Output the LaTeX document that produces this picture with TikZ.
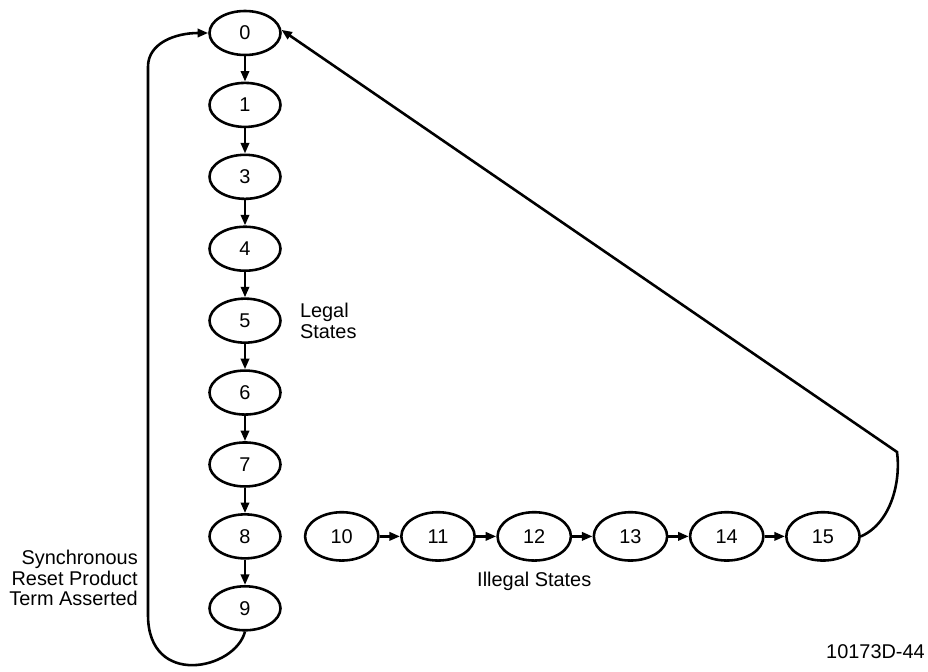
\documentclass[tikz,border=0pt]{standalone}
\usepackage{fontspec}
\setmainfont{Liberation Sans}
\usetikzlibrary{shapes.geometric, arrows.meta, positioning, calc}

\begin{document}
\begin{tikzpicture}[
  font=\fontsize{17}{17.5}\selectfont,
  node distance=0.76cm,
  state/.style={ellipse, draw, line width=2.2pt, minimum width=2.13cm,
                minimum height=1.32cm, inner sep=0pt},
  hstate/.style={state, minimum width=2.2cm, minimum height=1.45cm},
  lbl/.style={inner sep=0pt, align=left},
  arrow/.style={-{Triangle[length=9pt,width=7pt]}, line width=2.2pt},
]
\useasboundingbox (0,0) rectangle (27.84,-20.16);

% legal states
\node[state] (n0) at (7.35,-0.99) {0};
\node[state, below=of n0] (n1) {1};
\node[state, below=of n1] (n3) {3};
\node[state, below=of n3] (n4) {4};
\node[state, below=of n4] (n5) {5};
\node[state, below=of n5] (n6) {6};
\node[state, below=of n6] (n7) {7};
\node[state, below=of n7] (n8) {8};
\node[state, below=of n8] (n9) {9};

% illegal states
\node[hstate, right=0.66cm of n8]  (n10) {10};
\node[hstate, right=0.61cm of n10] (n11) {11};
\node[hstate, right=0.61cm of n11] (n12) {12};
\node[hstate, right=0.61cm of n12] (n13) {13};
\node[hstate, right=0.61cm of n13] (n14) {14};
\node[hstate, right=0.61cm of n14] (n15) {15};

\node[lbl, right=0.54cm of n5] (legal) {Legal\\States};
\node[lbl, below=0.3cm of n12] (illegal) {Illegal States};
\node[lbl, align=right, anchor=east] (reset) at (4.14,-17.34)
     {Synchronous\\Reset Product\\Term Asserted};
\node[lbl, anchor=east] (figno) at (27.75,-19.56) {10173D-44};

\draw[arrow] (n0) -- (n1);
\draw[arrow] (n1) -- (n3);
\draw[arrow] (n3) -- (n4);
\draw[arrow] (n4) -- (n5);
\draw[arrow] (n5) -- (n6);
\draw[arrow] (n6) -- (n7);
\draw[arrow] (n7) -- (n8);
\draw[arrow] (n8) -- (n9);

\draw[arrow] (n10) -- (n11);
\draw[arrow] (n11) -- (n12);
\draw[arrow] (n12) -- (n13);
\draw[arrow] (n13) -- (n14);
\draw[arrow] (n14) -- (n15);

% reset loop
\coordinate (loopbot) at (4.44,-18.45);
\coordinate (looptop) at (4.44,-2.0);
\draw[arrow] (n9.south) .. controls +(-0.3,-1.15) and +(0,-2.2) .. (loopbot)
  -- (looptop) .. controls +(0,0.7) and +(-1.0,0) .. (n0.west);

% return from 15
\coordinate (bend) at (26.91,-13.56);
\draw[arrow] (n15.east) .. controls +(0.9,0.4) and +(0.12,-0.9) .. (bend)
  -- (n0.5);

\end{tikzpicture}
\end{document}
